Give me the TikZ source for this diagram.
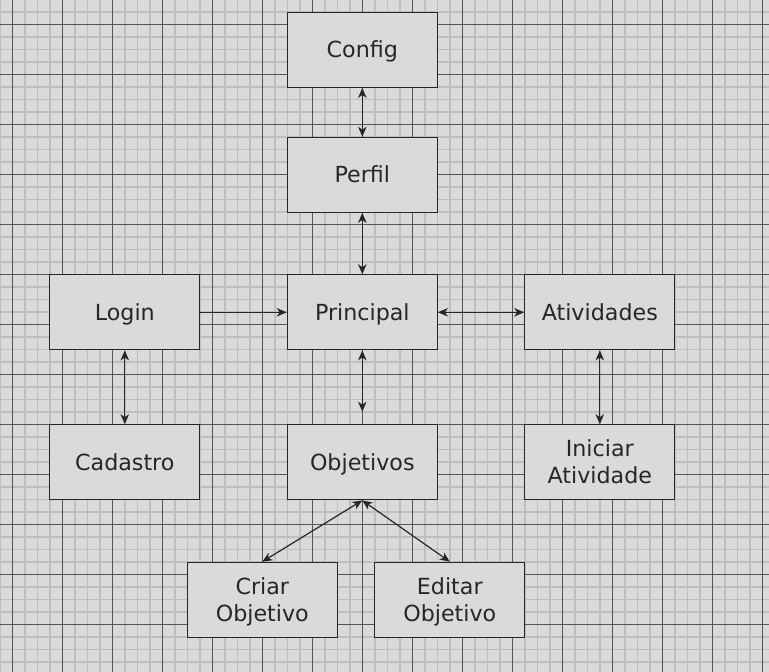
\documentclass[tikz,border=0pt]{standalone}
\usepackage{fontspec}
\setmainfont{DejaVu Sans}
\usetikzlibrary{arrows.meta}
\definecolor{bg}{HTML}{D9DADC}
\definecolor{minorc}{HTML}{BDBEBF}
\definecolor{majorc}{HTML}{555555}
\definecolor{ink}{HTML}{262626}
\begin{document}
\begin{tikzpicture}[x=1pt,y=-1pt,
  box/.style={draw=ink, fill=bg, line width=1.2pt, minimum width=150pt, minimum height=75pt,
    inner sep=0pt, align=center, font=\fontsize{22.2}{27}\selectfont, text=ink,
    text height=16pt, text depth=0pt},
  twoline/.style={text height=43pt},
  tip/.tip={Stealth[length=10pt,width=8.5pt,inset=3pt]},
  link/.style={draw=ink, line width=1.2pt, tip-tip},
  onelink/.style={draw=ink, line width=1.2pt, -tip},
  minorline/.style={draw=minorc, line width=1.4pt},
  majorline/.style={draw=majorc, line width=1pt}]
\fill[bg] (0,0) rectangle (769,672);
\useasboundingbox (0,0) rectangle (769,672);
\begin{scope}
  \clip (0,0) rectangle (769,672);
  \foreach \i in {0,...,62} {\draw[minorline] ({-0.2+12.5*\i},0) -- ++(0,672);}
  \foreach \j in {0,...,54} {\draw[minorline] (0,{-0.7+12.5*\j}) -- ++(769,0);}
  \foreach \i in {0,...,15} {\draw[majorline] ({12.3+50*\i},0) -- ++(0,672);}
  \foreach \j in {0,...,13} {\draw[majorline] (0,{24.3+50*\j}) -- ++(769,0);}
\end{scope}

\node[box] (config) at (362.3,49.8) {Config};
\node[box] (perfil) at (362.3,174.8) {Perfil};
\node[box] (principal) at (362.3,312.3) {Principal};
\node[box] (login) at (124.8,312.3) {Login};
\node[box] (atividades) at (599.8,312.3) {Atividades};
\node[box] (cadastro) at (124.8,462.3) {Cadastro};
\node[box] (objetivos) at (362.3,462.3) {Objetivos};
\node[box, twoline] (iniciar) at (599.8,462.3) {Iniciar\\Atividade};
\node[box, twoline] (criar) at (262.3,599.8) {Criar\\Objetivo};
\node[box, twoline] (editar) at (449.8,599.8) {Editar\\Objetivo};

\draw[link] (config) -- (perfil);
\draw[link] (perfil) -- (principal);
\draw[onelink] (login) -- (principal);
\draw[link] (principal) -- (atividades);
\draw[link, shorten >=12.5pt] (principal) -- (objetivos);
\draw[link] (login) -- (cadastro);
\draw[link] (atividades) -- (iniciar);
\draw[link] (objetivos.south) -- (criar.north);
\draw[link] (objetivos.south) -- (editar.north);
\end{tikzpicture}
\end{document}
